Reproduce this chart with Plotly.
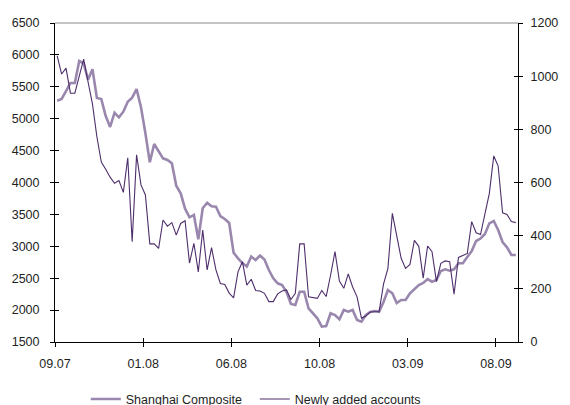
import plotly.graph_objects as go

# Weekly readings, Sep 2007 - Sep 2009
shanghai_composite = [
    5282, 5309, 5434, 5560, 5560, 5904, 5868, 5612, 5774, 5324,
    5309, 5042, 4870, 5094, 5022, 5110, 5266, 5329, 5466, 5179,
    4771, 4317, 4603, 4483, 4379, 4353, 4301, 3950, 3831, 3590,
    3454, 3491, 3110, 3596, 3683, 3627, 3621, 3475, 3428, 3365,
    2900, 2812, 2738, 2683, 2840, 2785, 2856, 2793, 2628, 2498,
    2420, 2393, 2284, 2096, 2080, 2288, 2288, 2028, 1950, 1871,
    1740, 1751, 1950, 1923, 1856, 2002, 1975, 2002, 1845, 1818,
    1923, 1970, 1986, 1975, 2127, 2315, 2263, 2111, 2158, 2160,
    2263, 2331, 2393, 2425, 2487, 2445, 2472, 2613, 2640, 2618,
    2640, 2734, 2734, 2832, 2926, 3083, 3122, 3193, 3360, 3397,
    3255, 3067, 2984, 2864, 2864,
]

newly_added_accounts = [
    1076, 1008, 1030, 936, 936, 1000, 1064, 978, 895, 772,
    677, 650, 620, 597, 607, 563, 693, 377, 704, 591,
    553, 369, 369, 352, 459, 436, 449, 402, 446, 456,
    297, 371, 264, 421, 271, 355, 271, 220, 216, 184,
    166, 264, 302, 214, 236, 194, 192, 183, 152, 152,
    181, 192, 196, 160, 183, 369, 369, 170, 167, 164,
    194, 171, 252, 340, 229, 202, 256, 207, 170, 90,
    98, 113, 114, 114, 218, 277, 484, 403, 315, 277,
    292, 382, 360, 240, 361, 340, 227, 296, 305, 302,
    180, 318, 325, 333, 453, 411, 404, 481, 559, 700,
    662, 486, 480, 453, 449,
]

tick_labels = ["09.07", "01.08", "06.08", "10.08", "03.09", "08.09"]
weeks_per_tick = 20

n = len(shanghai_composite)
weeks = list(range(n))
tick_positions = [k * weeks_per_tick - 0.5 for k in range(len(tick_labels))]
x_range = [-0.5, n - 0.5]

FONT = dict(family="Liberation Sans, Arial, sans-serif", size=12.5, color="#1e1e1e")

fig = go.Figure()
fig.add_trace(go.Scatter(
    x=weeks, y=shanghai_composite, name="Shanghai Composite",
    mode="lines", line=dict(color="#9A87AE", width=2.6), yaxis="y",
))
fig.add_trace(go.Scatter(
    x=weeks, y=newly_added_accounts, name="Newly added accounts",
    mode="lines", line=dict(color="#4E2F6C", width=1.1), yaxis="y2",
))
# empty helper traces so the inner tick axes are laid out
fig.add_trace(go.Scatter(x=[], y=[], xaxis="x2", yaxis="y3", showlegend=False, hoverinfo="skip"))
fig.add_trace(go.Scatter(x=[], y=[], yaxis="y4", showlegend=False, hoverinfo="skip"))

common = dict(showgrid=False, zeroline=False, tickcolor="black", ticklen=4, tickwidth=1)

fig.update_layout(
    width=570, height=405,
    margin=dict(l=50, r=42, t=23, b=63),
    paper_bgcolor="white", plot_bgcolor="white",
    font=FONT,
    showlegend=True,
    legend=dict(orientation="h", xref="container", yref="container",
                x=0.1505, xanchor="left", y=0.014, yanchor="middle",
                entrywidth=124, entrywidthmode="pixels",
                font=FONT, bgcolor="rgba(0,0,0,0)", itemwidth=30, tracegroupgap=0),
    xaxis=dict(range=x_range, tickmode="array", tickvals=tick_positions, ticktext=tick_labels,
               ticks="outside", showline=True, linecolor="black", linewidth=1,
               ticklabelstandoff=6, **common),
    xaxis2=dict(range=x_range, tickmode="array", tickvals=tick_positions, overlaying="x",
                anchor="y", side="bottom", ticks="inside", showticklabels=False,
                showline=False, **common),
    yaxis=dict(range=[1500, 6500], tick0=1500, dtick=500, ticks="outside", showline=True,
               linecolor="black", linewidth=1, ticklabelstandoff=8, **common),
    yaxis2=dict(range=[0, 1200], tick0=0, dtick=200, overlaying="y", side="right", anchor="x",
                ticks="outside", showline=True, linecolor="black", linewidth=1,
                ticklabelstandoff=5, **common),
    yaxis3=dict(range=[1500, 6500], tick0=1500, dtick=500, overlaying="y", side="left",
                anchor="x", ticks="inside", showticklabels=False, showline=False, **common),
    yaxis4=dict(range=[0, 1200], tick0=0, dtick=200, overlaying="y", side="right",
                anchor="x", ticks="inside", showticklabels=False, showline=False, **common),
    shapes=[dict(type="line", xref="paper", yref="paper", x0=0, x1=1, y0=1, y1=1,
                 line=dict(color="#8a8a8a", width=1), layer="below")],
)

fig.write_html("out.html")
